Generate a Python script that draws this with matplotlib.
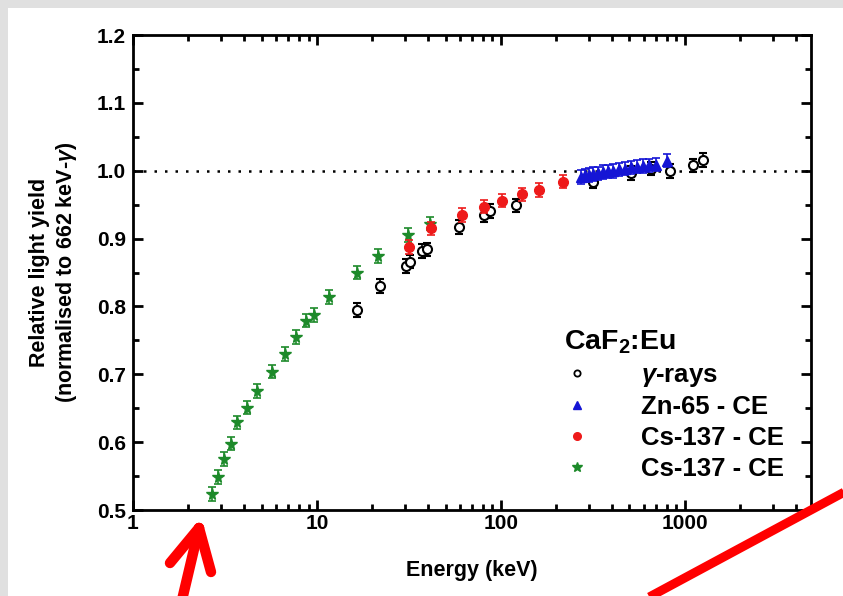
import matplotlib
matplotlib.use("Agg")
import matplotlib.pyplot as plt
from matplotlib.lines import Line2D
from matplotlib.patches import Rectangle
from matplotlib.ticker import FixedLocator, FixedFormatter, MultipleLocator, LogLocator, NullFormatter

plt.rcParams['font.family'] = ['Liberation Sans', 'DejaVu Sans']
plt.rcParams['font.weight'] = 'bold'
plt.rcParams['mathtext.fontset'] = 'custom'
plt.rcParams['mathtext.rm'] = 'Liberation Sans:bold'
plt.rcParams['mathtext.bf'] = 'Liberation Sans:bold'
plt.rcParams['mathtext.it'] = 'Liberation Sans:bold:italic'

# ---- data ----
gamma_E = [16.6, 22.0, 30.5, 32.0, 37.1, 39.8, 59.1, 80.9, 87.1, 120.7, 315, 507, 651, 829, 1109, 1259]
gamma_Y = [0.795, 0.830, 0.860, 0.866, 0.882, 0.884, 0.917, 0.935, 0.941, 0.949, 0.984, 0.997, 1.003, 1.000, 1.008, 1.016]

zn_E = [272, 286, 302, 318, 338, 360, 383, 408, 439, 472, 507, 547, 593, 640, 695, 796]
zn_Y = [0.991, 0.993, 0.994, 0.995, 0.996, 0.998, 0.999, 1.000, 1.002, 1.003, 1.005, 1.006, 1.007, 1.008, 1.009, 1.015]

cs_E = [31.7, 41.5, 61.1, 80.9, 100.9, 130.6, 161, 218]
cs_Y = [0.888, 0.915, 0.935, 0.947, 0.956, 0.965, 0.972, 0.984]

star_E = [2.70, 2.91, 3.11, 3.40, 3.69, 4.18, 4.70, 5.71, 6.67, 7.69, 8.68, 9.63, 11.7, 16.6, 21.5, 31.4, 41.1]
star_Y = [0.524, 0.549, 0.575, 0.598, 0.629, 0.651, 0.675, 0.704, 0.730, 0.755, 0.779, 0.787, 0.814, 0.850, 0.874, 0.905, 0.922]

err = 0.01
x_ticks = [1, 10, 100, 1000]
x_ticklabels = ["1", "10", "100", "1000"]
y_ticks = [0.5, 0.6, 0.7, 0.8, 0.9, 1.0, 1.1, 1.2]
y_ticklabels = ["0.5", "0.6", "0.7", "0.8", "0.9", "1.0", "1.1", "1.2"]

W, H = 843, 596
fig = plt.figure(figsize=(W / 100, H / 100), dpi=100, facecolor='#e0e0e0')
fig.add_artist(Rectangle((8 / W, 0), 1, 1 - 8 / H, transform=fig.transFigure,
                         facecolor='white', edgecolor='none', zorder=-10))

ax = fig.add_axes([133 / W, 1 - 510 / H, (811 - 133) / W, (510 - 35) / H])
ax.set_xscale('log')
ax.set_xlim(1, 4850)
ax.set_ylim(0.5, 1.2)

ax.axhline(1.0, color='black', lw=1.8, ls=(0, (1.0, 3.2)), zorder=1)

ekw = dict(elinewidth=1.2, capsize=3.0, capthick=1.2, linestyle='none')
ax.errorbar(gamma_E, gamma_Y, yerr=err, marker='o', ms=6.5, mfc='white', mec='black',
            mew=1.5, color='black', zorder=3, **ekw)
ax.errorbar(zn_E, zn_Y, yerr=err, marker='^', ms=6.5, color='#1515d5', zorder=4, **ekw)
ax.errorbar(star_E, star_Y, yerr=err, marker='*', ms=8.5, color='#1d8a2a', zorder=5, **ekw)
ax.errorbar(cs_E, cs_Y, yerr=err, marker='o', ms=7, color='#ee1a1a', zorder=6, **ekw)

# legend handles
handles = [
    Line2D([], [], ls='none', marker='o', ms=4.5, mfc='white', mec='black', mew=1.3),
    Line2D([], [], ls='none', marker='^', ms=6, color='#1515d5'),
    Line2D([], [], ls='none', marker='o', ms=5.5, color='#ee1a1a'),
    Line2D([], [], ls='none', marker='*', ms=7, color='#1d8a2a'),
]
labels = [r"$\mathit{\gamma}$-rays", "Zn-65 - CE", "Cs-137 - CE", "Cs-137 - CE"]
leg = ax.legend(handles, labels, title=r"CaF$_{\mathbf{2}}$:Eu", frameon=False,
                loc='lower right', bbox_to_anchor=(0.975, 0.04),
                prop={'size': 18.5, 'weight': 'bold'},
                title_fontproperties={'size': 20.5, 'weight': 'bold'},
                handlelength=1.0, handletextpad=2.0, labelspacing=0.26, borderaxespad=0)
leg._legend_box.align = 'left'

# axes styling
for s in ax.spines.values():
    s.set_linewidth(2.0)
ax.xaxis.set_major_locator(FixedLocator(x_ticks))
ax.xaxis.set_major_formatter(FixedFormatter(x_ticklabels))
ax.xaxis.set_minor_locator(LogLocator(base=10, subs=range(2, 10)))
ax.xaxis.set_minor_formatter(NullFormatter())
ax.yaxis.set_major_locator(FixedLocator(y_ticks))
ax.yaxis.set_major_formatter(FixedFormatter(y_ticklabels))
ax.yaxis.set_minor_locator(MultipleLocator(0.05))
ax.tick_params(which='both', direction='in', top=True, right=True, width=2.0)
ax.tick_params(which='major', length=7, labelsize=15)
ax.tick_params(axis='x', which='major', pad=3)
ax.tick_params(axis='y', which='major', pad=5)
ax.tick_params(which='minor', length=4)
for lbl in ax.get_xticklabels() + ax.get_yticklabels():
    lbl.set_fontweight('bold')

ax.set_xlabel("Energy (keV)", fontsize=15.5, fontweight='bold', labelpad=19)
ax.set_ylabel("Relative light yield\n(normalised to 662 keV-$\\mathit{\\gamma}$)",
              fontsize=15.5, fontweight='bold', labelpad=13, linespacing=1.2)

# red annotation marks drawn over the figure
def px(x, y):
    return (x / W, 1 - y / H)

red = '#ff0000'
for (x0, y0), (x1, y1) in [((182, 600), (199, 528)), ((170, 563), (199, 528)), ((211, 572), (199, 528))]:
    a, b = px(x0, y0), px(x1, y1)
    fig.add_artist(Line2D([a[0], b[0]], [a[1], b[1]], transform=fig.transFigure,
                          color=red, lw=7.5, solid_capstyle='round', zorder=20))
a, b = px(640, 602), px(850, 489)
fig.add_artist(Line2D([a[0], b[0]], [a[1], b[1]], transform=fig.transFigure,
                      color=red, lw=6.5, solid_capstyle='butt', zorder=20))

fig.savefig("out.png", dpi=100, facecolor=fig.get_facecolor())
